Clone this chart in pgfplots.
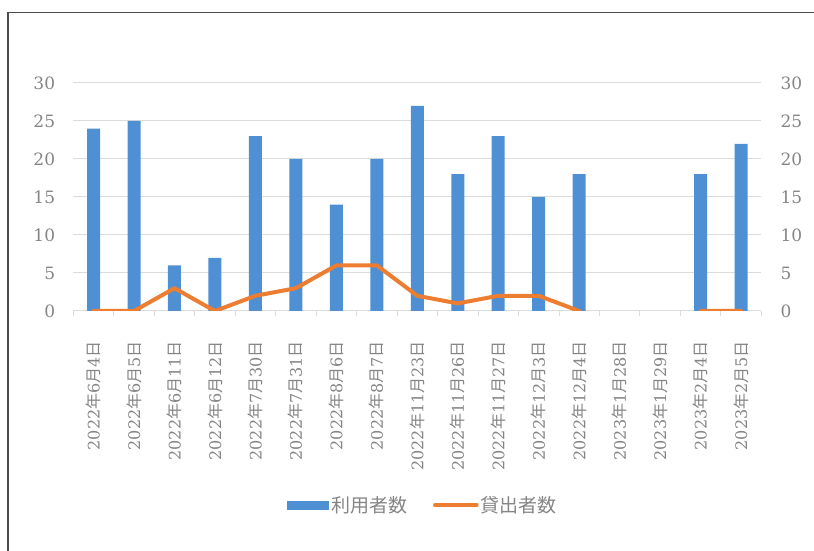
\documentclass[border=0pt]{standalone}
\usepackage{fontspec}
\usepackage{pgfplots}
\pgfplotsset{compat=1.18}
\setmainfont{DejaVu Serif}
\newfontfamily\cjk{Noto Sans CJK JP}
\definecolor{barblue}{HTML}{4F90D4}
\definecolor{lineorange}{HTML}{ED7D31}
\definecolor{tickgray}{HTML}{858585}
\definecolor{gridgray}{HTML}{DCDCDC}
\newcommand\dt[3]{#1{\cjk 年}#2{\cjk 月}#3{\cjk 日}}

\begin{document}
\begin{tikzpicture}
\path[use as bounding box] (0pt,0pt) rectangle (814pt,551pt);
% frame
\draw[color=black!70, line width=1.3pt] (8pt,0pt) -- (8pt,538.5pt) -- (814pt,538.5pt);

\begin{axis}[
  at={(73.3pt,240pt)}, anchor=south west,
  scale only axis, width=688pt, height=228pt,
  xmin=-0.5, xmax=16.5, ymin=0, ymax=30,
  axis x line*=bottom, axis y line*=left,
  y axis line style={draw=none},
  x axis line style={draw=gridgray, line width=1pt},
  ytick={0,5,...,30},
  ymajorgrids, grid style={gridgray, line width=1pt},
  xtick={0,...,16},
  minor xtick={-0.5,0.5,...,16.5},
  major tick length=0pt, minor tick length=5pt,
  tick align=outside,
  minor tick style={gridgray, line width=0.8pt},
  /pgf/number format/assume math mode=true,
  yticklabel style={font=\fontsize{17}{17}\selectfont, text=tickgray, inner sep=0pt, xshift=-18pt, anchor=east},
  xticklabel style={font=\fontsize{16}{16}\selectfont, text=tickgray, rotate=90, anchor=east, inner sep=0pt},
  xticklabel shift=30pt,
  xticklabels={\dt{2022}{6}{4}, \dt{2022}{6}{5}, \dt{2022}{6}{11}, \dt{2022}{6}{12},
    \dt{2022}{7}{30}, \dt{2022}{7}{31}, \dt{2022}{8}{6}, \dt{2022}{8}{7},
    \dt{2022}{11}{23}, \dt{2022}{11}{26}, \dt{2022}{11}{27}, \dt{2022}{12}{3},
    \dt{2022}{12}{4}, \dt{2023}{1}{28}, \dt{2023}{1}{29}, \dt{2023}{2}{4}, \dt{2023}{2}{5}},
  unbounded coords=jump,
  legend columns=2,
  legend style={at={(0.508,-0.851)}, anchor=center, draw=none, fill=none,
    font=\cjk\fontsize{19}{19}\selectfont, text=tickgray,
    /tikz/every even column/.append style={column sep=24pt}},
]
% 利用者数
\addplot[ybar, bar width=13pt, fill=barblue, draw=none,
  legend image code/.code={\fill[barblue] (0pt,-4.5pt) rectangle (42pt,4.5pt);}]
  coordinates {(0,24) (1,25) (2,6) (3,7) (4,23) (5,20) (6,14) (7,20) (8,27)
    (9,18) (10,23) (11,15) (12,18) (15,18) (16,22)};
\addlegendentry{利用者数}
% 貸出者数
\addplot[lineorange, line width=4pt, line join=round, line cap=round, mark=none,
  legend image code/.code={\draw[lineorange, line width=3.5pt] (0pt,0pt) -- (42pt,0pt);}]
  coordinates {(0,0) (1,0) (2,3) (3,0) (4,2) (5,3) (6,6) (7,6) (8,2)
    (9,1) (10,2) (11,2) (12,0) (13,nan) (14,nan) (15,0) (16,0)};
\addlegendentry{貸出者数}
\end{axis}

% right-hand scale
\begin{axis}[
  at={(73.3pt,240pt)}, anchor=south west,
  scale only axis, width=688pt, height=228pt,
  xmin=-0.5, xmax=16.5, ymin=0, ymax=30,
  axis x line=none, axis y line*=right,
  y axis line style={draw=none},
  ytick={0,5,...,30}, major tick length=0pt,
  /pgf/number format/assume math mode=true,
  yticklabel style={font=\fontsize{17}{17}\selectfont, text=tickgray, inner sep=0pt, xshift=19pt, anchor=west},
]
\end{axis}
\end{tikzpicture}
\end{document}
